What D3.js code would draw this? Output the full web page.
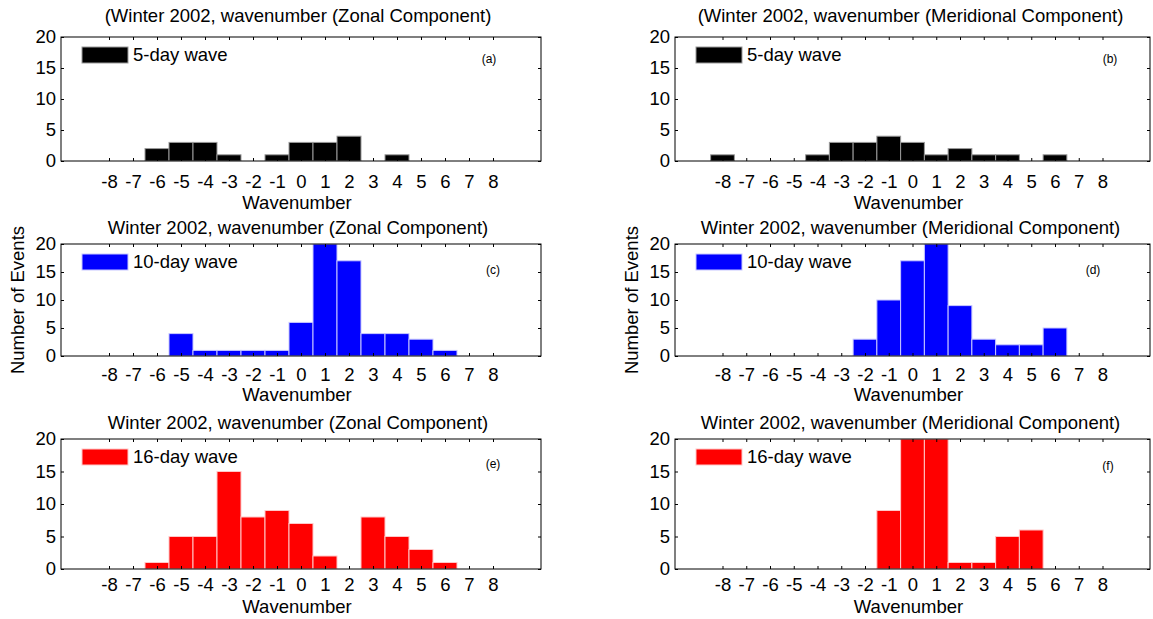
<!DOCTYPE html>
<html>
<head>
<meta charset="utf-8">
<script src="https://cdn.jsdelivr.net/npm/d3@7"></script>
<style>
  html, body { margin: 0; padding: 0; background: #fff; }
  svg { display: block; font-family: "Liberation Sans", Arial, sans-serif; }
</style>
</head>
<body>
<svg id="chart" width="1153" height="619"></svg>
<script>
// Wavenumber bins shown on every panel
const wavenumbers = d3.range(-8, 9);
const yTicks = [0, 5, 10, 15, 20];

// Event counts per wavenumber, -8 .. 8
const zonal5 = [0, 0, 2, 3, 3, 1, 0, 1, 3, 3, 4, 0, 1, 0, 0, 0, 0];
const meridional5 = [1, 0, 0, 0, 1, 3, 3, 4, 3, 1, 2, 1, 1, 0, 1, 0, 0];
const zonal10 = [0, 0, 0, 4, 1, 1, 1, 1, 6, 20, 17, 4, 4, 3, 1, 0, 0];
const meridional10 = [0, 0, 0, 0, 0, 0, 3, 10, 17, 20, 9, 3, 2, 2, 5, 0, 0];
const zonal16 = [0, 0, 1, 5, 5, 15, 8, 9, 7, 2, 0, 8, 5, 3, 1, 0, 0];
const meridional16 = [0, 0, 0, 0, 0, 0, 0, 9, 20, 20, 1, 1, 5, 6, 0, 0, 0];

const titles = [
  "(Winter 2002, wavenumber (Zonal Component)",
  "(Winter 2002, wavenumber (Meridional Component)",
  "Winter 2002, wavenumber (Zonal Component)",
  "Winter 2002, wavenumber (Meridional Component)",
  "Winter 2002, wavenumber (Zonal Component)",
  "Winter 2002, wavenumber (Meridional Component)"
];
const legendLabels = ["5-day wave", "5-day wave", "10-day wave", "10-day wave", "16-day wave", "16-day wave"];
const panelTags = ["(a)", "(b)", "(c)", "(d)", "(e)", "(f)"];
const seriesList = [zonal5, meridional5, zonal10, meridional10, zonal16, meridional16];

// Layout: columns and rows of the 3x2 grid
const cols = [{ x0: 61, x1: 541, ylab: 18, titleShift: -3 }, { x0: 675, x1: 1150, ylab: 632, titleShift: -2 }];
const rows = [
  { y0: 37, y1: 161, titleY: 22, tickPad: 14, xlabY: 209, color: "#000000", edge: "#9a9a9a", showYLabel: false },
  { y0: 244, y1: 356, titleY: 234, tickPad: 12, xlabY: 401, color: "#0000ff", edge: "#c8c8ff", showYLabel: true },
  { y0: 439, y1: 569, titleY: 429, tickPad: 9, xlabY: 613, color: "#ff0000", edge: "#ffc8c8", showYLabel: false }
];
const tagOffsets = [
  { dx: 428, dy: 22 }, { dx: 435, dy: 22 },
  { dx: 432, dy: 26 }, { dx: 418, dy: 26 },
  { dx: 432, dy: 25 }, { dx: 433, dy: 27 }
];
const baseFont = "18.5px";

const svg = d3.select("#chart");

seriesList.forEach((values, i) => {
  const col = cols[i % 2];
  const row = rows[Math.floor(i / 2)];
  const x = d3.scaleLinear().domain([-10, 10]).range([col.x0, col.x1]);
  const y = d3.scaleLinear().domain([0, 20]).range([row.y1, row.y0]);
  const g = svg.append("g");

  const clipId = "clip" + i;
  g.append("clipPath").attr("id", clipId)
    .append("rect")
    .attr("x", col.x0).attr("y", row.y0)
    .attr("width", col.x1 - col.x0).attr("height", row.y1 - row.y0);

  // Bars
  const data = wavenumbers.map((k, j) => ({ k, v: values[j] })).filter(d => d.v > 0);
  g.append("g").attr("clip-path", `url(#${clipId})`)
    .selectAll("rect").data(data).join("rect")
    .attr("x", d => x(d.k - 0.5))
    .attr("width", d => x(d.k + 0.5) - x(d.k - 0.5))
    .attr("y", d => y(d.v))
    .attr("height", d => y(0) - y(d.v))
    .attr("fill", row.color)
    .attr("stroke", row.edge)
    .attr("stroke-width", 1);

  // Axes with inward ticks on all four sides; plain hyphen for negatives
  const fmt = d => String(d);
  const bottom = g.append("g").attr("transform", `translate(0,${row.y1})`)
    .call(d3.axisBottom(x).tickValues(wavenumbers).tickFormat(fmt)
      .tickSizeInner(-3).tickSizeOuter(0).tickPadding(row.tickPad));
  const top = g.append("g").attr("transform", `translate(0,${row.y0})`)
    .call(d3.axisTop(x).tickValues(wavenumbers).tickSizeInner(-3).tickSizeOuter(0).tickFormat(""));
  const left = g.append("g").attr("transform", `translate(${col.x0},0)`)
    .call(d3.axisLeft(y).tickValues(yTicks).tickFormat(fmt)
      .tickSizeInner(-3).tickSizeOuter(0).tickPadding(5));
  const right = g.append("g").attr("transform", `translate(${col.x1},0)`)
    .call(d3.axisRight(y).tickValues(yTicks).tickSizeInner(-3).tickSizeOuter(0).tickFormat(""));
  [bottom, top, left, right].forEach(a => {
    a.select(".domain").remove();
    a.selectAll("line").attr("stroke", "#000");
    a.selectAll("text").attr("fill", "#000").style("font-size", baseFont)
      .style("font-family", '"Liberation Sans", Arial, sans-serif');
  });

  // Frame
  g.append("rect")
    .attr("x", col.x0).attr("y", row.y0)
    .attr("width", col.x1 - col.x0).attr("height", row.y1 - row.y0)
    .attr("fill", "none").attr("stroke", "#000").attr("stroke-width", 1);

  // Title
  g.append("text")
    .attr("x", (col.x0 + col.x1) / 2 + col.titleShift).attr("y", row.titleY)
    .attr("text-anchor", "middle").style("font-size", baseFont)
    .text(titles[i]);

  // X label
  g.append("text")
    .attr("x", (col.x0 + col.x1) / 2 - 4).attr("y", row.xlabY)
    .attr("text-anchor", "middle").style("font-size", baseFont)
    .text("Wavenumber");

  // Y label
  if (row.showYLabel) {
    g.append("text")
      .attr("transform", `translate(${col.ylab},${(row.y0 + row.y1) / 2}) rotate(-90)`)
      .attr("text-anchor", "middle").attr("dy", "0.35em").style("font-size", baseFont)
      .text("Number of Events");
  }

  // Legend
  const lx = col.x0 + 21, ly = row.y0 + 10;
  g.append("rect")
    .attr("x", lx).attr("y", ly).attr("width", 46).attr("height", 16)
    .attr("fill", row.color).attr("stroke", row.edge).attr("stroke-width", 1);
  g.append("text")
    .attr("x", lx + 51).attr("y", ly + 8).attr("dy", "0.35em")
    .style("font-size", baseFont)
    .text(legendLabels[i]);

  // Panel tag
  g.append("text")
    .attr("x", col.x0 + tagOffsets[i].dx).attr("y", row.y0 + tagOffsets[i].dy)
    .attr("text-anchor", "middle").attr("dy", "0.35em")
    .style("font-size", "12px")
    .text(panelTags[i]);
});
</script>
</body>
</html>
